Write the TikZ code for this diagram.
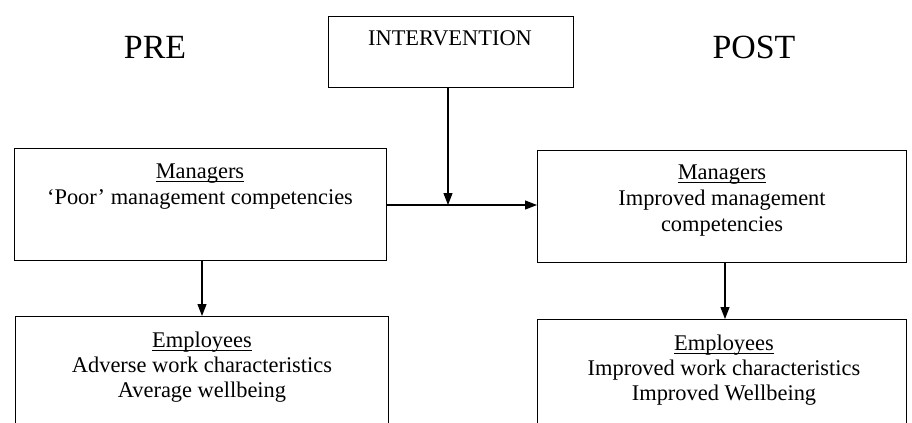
\documentclass[tikz,border=0pt]{standalone}
\usepackage{fontspec}
\setmainfont{Liberation Serif}
\usetikzlibrary{arrows.meta}
\newcommand\ulx[1]{\underline{\smash{#1}\rule[-1.8pt]{0pt}{0pt}}}
\begin{document}
\begin{tikzpicture}[x=1bp,y=-1bp,
  box/.style={draw, line width=1.3bp, inner sep=0pt, anchor=north west},
  txt/.style={anchor=base, inner sep=0pt, font=\fontsize{22.5}{26}\selectfont},
  big/.style={anchor=base, inner sep=0pt, font=\fontsize{34}{40}\selectfont},
  arr/.style={line width=1.2bp, -{Triangle[length=12bp,width=9bp]}}]
\clip (0,0) rectangle (912,422);
\fill[white] (0,0) rectangle (912,422);
% headings
\node[big] (pre) at (155,58) {PRE};
\node[big] (post) at (754,58) {POST};
% intervention
\node[box, minimum width=245bp, minimum height=71bp] (int) at (328,16) {};
\node[txt] (intt) at (450,45.5) {INTERVENTION};
% managers pre
\node[box, minimum width=372bp, minimum height=112bp] (lm) at (14,148) {};
\node[txt] (lm1) at (200,178) {\ulx{Managers}};
\node[txt] (lm2) at (200,204) {‘Poor’ management competencies};
% managers post
\node[box, minimum width=369bp, minimum height=112bp] (rm) at (537,150) {};
\node[txt] (rm1) at (722,179) {\ulx{Managers}};
\node[txt] (rm2) at (722,205) {Improved management};
\node[txt] (rm3) at (722,231) {competencies};
% employees pre
\node[box, minimum width=373bp, minimum height=140bp] (le) at (15,316) {};
\node[txt] (le1) at (202,347) {\ulx{Employees}};
\node[txt] (le2) at (202,372) {Adverse work characteristics};
\node[txt] (le3) at (202,397) {Average wellbeing};
% employees post
\node[box, minimum width=369bp, minimum height=140bp] (re) at (537,319) {};
\node[txt] (re1) at (724,350) {\ulx{Employees}};
\node[txt] (re2) at (724,375) {Improved work characteristics};
\node[txt] (re3) at (724,400) {Improved Wellbeing};
% connectors
\coordinate (j) at (448,205);
\draw[arr] (int.south -| j) -- (j);
\draw[arr] (lm.east |- j) -- (rm.west |- j);
\coordinate (dl) at (202,0);
\coordinate (dr) at (725,0);
\draw[arr] (lm.south -| dl) -- (le.north -| dl);
\draw[arr] (rm.south -| dr) -- (re.north -| dr);
\end{tikzpicture}
\end{document}
